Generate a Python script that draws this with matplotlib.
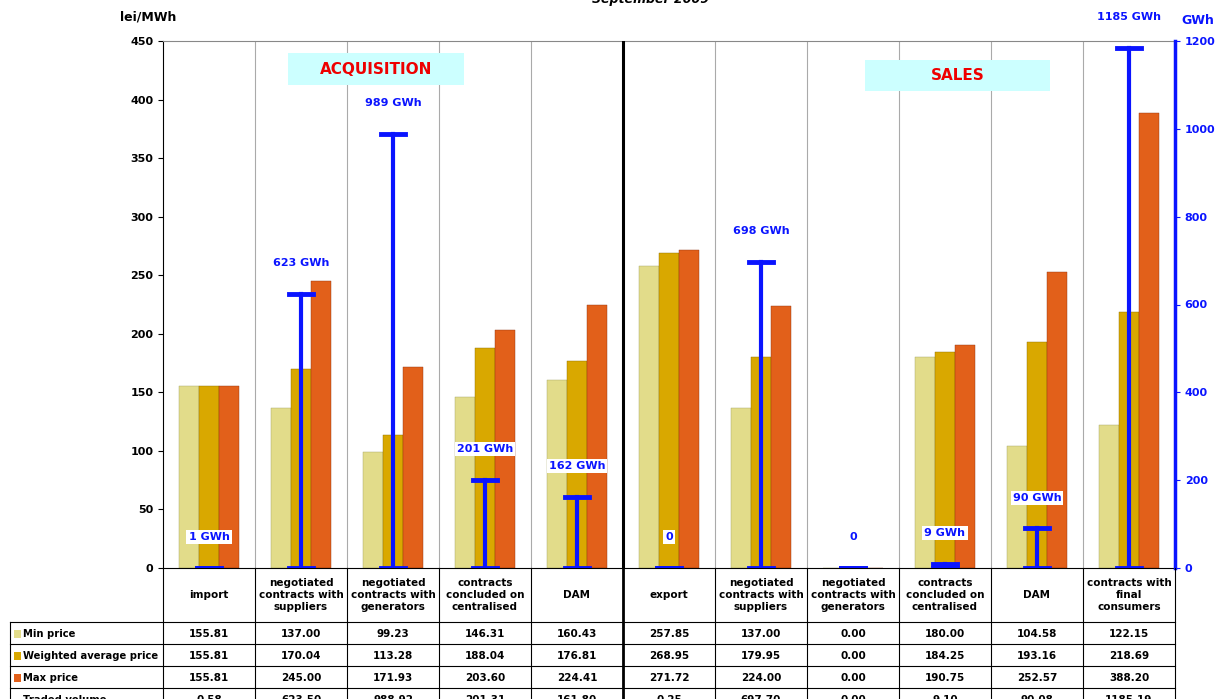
import numpy as np
import matplotlib.pyplot as plt
from matplotlib.lines import Line2D
from matplotlib.patches import Rectangle

categories = ['import', 'negotiated\ncontracts with\nsuppliers', 'negotiated\ncontracts with\ngenerators',
              'contracts\nconcluded on\ncentralised', 'DAM',
              'export', 'negotiated\ncontracts with\nsuppliers', 'negotiated\ncontracts with\ngenerators',
              'contracts\nconcluded on\ncentralised', 'DAM', 'contracts with\nfinal\nconsumers']
min_price = [155.81, 137.00, 99.23, 146.31, 160.43, 257.85, 137.00, 0.00, 180.00, 104.58, 122.15]
avg_price = [155.81, 170.04, 113.28, 188.04, 176.81, 268.95, 179.95, 0.00, 184.25, 193.16, 218.69]
max_price = [155.81, 245.00, 171.93, 203.60, 224.41, 271.72, 224.00, 0.00, 190.75, 252.57, 388.20]
volume = [0.58, 623.50, 988.92, 201.31, 161.80, 0.25, 697.70, 0.00, 9.10, 90.08, 1185.19]
vol_labels = ['1 GWh', '623 GWh', '989 GWh', '201 GWh', '162 GWh', '0', '698 GWh', '0',
              '9 GWh', '90 GWh', '1185 GWh']

c_min, c_avg, c_max = '#e2dc8a', '#d9a800', '#e2601a'
blue = '#0a14ff'

fig = plt.figure(figsize=(12.16, 6.99), dpi=100)
W, H = 1216, 699
L, R, T, B = 163, 1175, 41, 568
ax = fig.add_axes([L / W, 1 - B / H, (R - L) / W, (B - T) / H])
n = len(categories)
x = np.arange(n) + 0.5
bw = 0.22
ax.bar(x - bw, min_price, bw, color=c_min, edgecolor='#a0a060', linewidth=0.3, zorder=2)
ax.bar(x, avg_price, bw, color=c_avg, edgecolor='#8a6a00', linewidth=0.3, zorder=2)
ax.bar(x + bw, max_price, bw, color=c_max, edgecolor='#903010', linewidth=0.3, zorder=2)
ax.set_xlim(0, n)
ax.set_ylim(0, 450)
ax.set_yticks(range(0, 451, 50))
ax.set_xticks([])
for i in range(1, n):
    ax.axvline(i, color='#aaaaaa', lw=0.8, zorder=1)
ax.axvline(5, color='black', lw=2.2, zorder=3)
ax.tick_params(axis='y', labelsize=8)
for t in ax.get_yticklabels():
    t.set_fontweight('bold')
ax.spines['right'].set_visible(False)
ax.spines['top'].set_color('#888888')

ax2 = ax.twinx()
ax2.set_ylim(0, 1200)
ax2.set_yticks(range(0, 1201, 200))
ax2.tick_params(axis='y', colors=blue, labelsize=8)
for t in ax2.get_yticklabels():
    t.set_fontweight('bold')
ax2.spines['right'].set_color(blue)
ax2.spines['right'].set_linewidth(2.5)
for s in ['top', 'left', 'bottom']:
    ax2.spines[s].set_visible(False)
for xi, v, lab in zip(x, volume, vol_labels):
    ax2.plot([xi, xi], [0, v], color=blue, lw=3, zorder=5)
    ax2.plot([xi - 0.13, xi + 0.13], [v, v], color=blue, lw=3.5, zorder=5)
    ax2.plot([xi - 0.13, xi + 0.13], [0, 0], color=blue, lw=3.5, zorder=5)
    ax2.text(xi, v + 70, lab, color=blue, fontsize=8, fontweight='bold', ha='center', va='center',
             bbox=dict(facecolor='white', edgecolor='none', pad=1.5), zorder=6)

fig.text(1181 / W, 1 - 24 / H, 'GWh', color=blue, fontsize=9, fontweight='bold', ha='left')
fig.text(120 / W, 1 - 20 / H, 'lei/MWh', fontsize=9, fontweight='bold', ha='left')
fig.text(650 / W, 1 - 0 / H, 'September 2009', fontsize=9, fontweight='bold', fontstyle='italic',
         ha='center', va='center')

# section captions
for (x0, x1, y0, y1, txt) in [(288, 464, 53, 85, 'ACQUISITION'), (865, 1050, 60, 91, 'SALES')]:
    fig.patches.append(Rectangle((x0 / W, 1 - y1 / H), (x1 - x0) / W, (y1 - y0) / H,
                                 transform=fig.transFigure, facecolor='#ccffff', edgecolor='none'))
    fig.text((x0 + x1) / 2 / W, 1 - (y0 + y1) / 2 / H, txt, color='#ee0000', fontsize=11,
             fontweight='bold', ha='center', va='center')

# table
cw = (R - L) / n
def hl(y, x0, x1):
    fig.add_artist(Line2D([x0 / W, x1 / W], [1 - y / H, 1 - y / H], color='black', lw=0.8))
def vl(xx, y0, y1, lw=0.8):
    fig.add_artist(Line2D([xx / W, xx / W], [1 - y0 / H, 1 - y1 / H], color='black', lw=lw))
rows_y = [622, 644, 666, 688, 710]
for y in rows_y:
    hl(y, 10, R)
for i in range(n + 1):
    xx = L + i * cw
    vl(xx, 568, 699, lw=2 if i == 5 else 0.8)
vl(10, 622, 699)
for i, c in enumerate(categories):
    fig.text((L + (i + 0.5) * cw) / W, 1 - 595 / H, c, fontsize=7.5, fontweight='bold',
             ha='center', va='center', linespacing=1.3)
row_names = ['Min price', 'Weighted average price', 'Max price', 'Traded volume']
row_data = [min_price, avg_price, max_price, volume]
row_cols = [c_min, c_avg, c_max, blue]
for r, (nm, data, col) in enumerate(zip(row_names, row_data, row_cols)):
    yc = (rows_y[r] + rows_y[r + 1]) / 2 + 1
    if r < 3:
        fig.patches.append(Rectangle((14 / W, 1 - (yc + 4) / H), 7 / W, 8 / H,
                                     transform=fig.transFigure, facecolor=col, edgecolor='none'))
    else:
        fig.add_artist(Line2D([14 / W, 21 / W], [1 - (yc + 2) / H] * 2, color=blue, lw=2.5))
    fig.text(23 / W, 1 - yc / H, nm, fontsize=7.2, fontweight='bold', ha='left', va='center')
    for i, v in enumerate(data):
        fig.text((L + (i + 0.5) * cw) / W, 1 - yc / H, f'{v:.2f}', fontsize=7.5,
                 fontweight='bold', ha='center', va='center')

fig.savefig('out.png', dpi=100)
